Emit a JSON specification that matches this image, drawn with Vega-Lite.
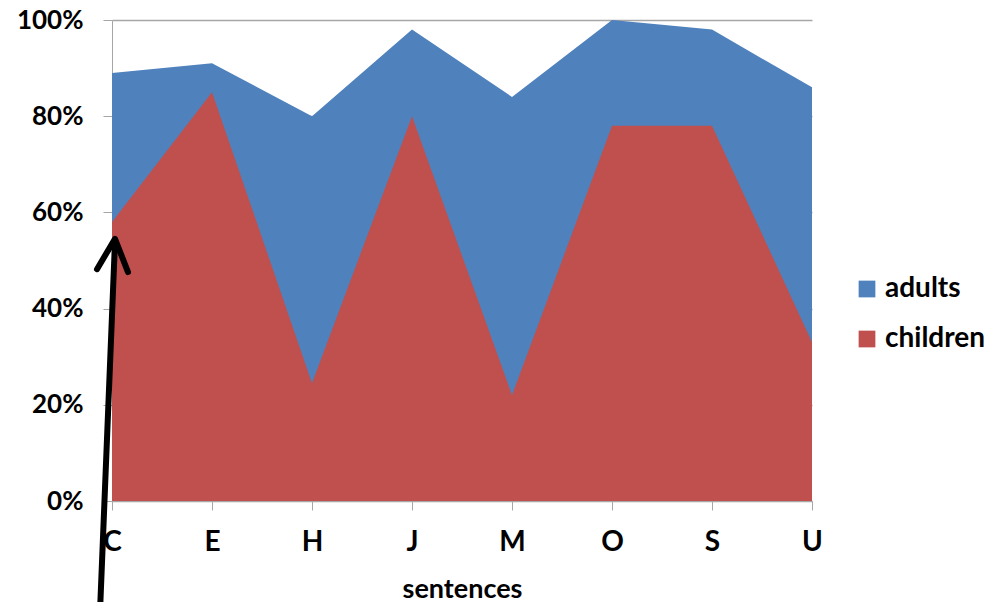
{
  "$schema": "https://vega.github.io/schema/vega-lite/v6.json",
  "width": 700,
  "height": 481,
  "autosize": {"type": "none"},
  "padding": {"left": 112, "top": 20, "right": 182, "bottom": 101},
  "background": "white",
  "config": {
    "font": "Lato",
    "view": {"stroke": null}
  },
  "datasets": {
    "series": [
      {"sentence": "C", "idx": 0, "group": "adults", "value": 0.89},
      {"sentence": "E", "idx": 1, "group": "adults", "value": 0.91},
      {"sentence": "H", "idx": 2, "group": "adults", "value": 0.80},
      {"sentence": "J", "idx": 3, "group": "adults", "value": 0.98},
      {"sentence": "M", "idx": 4, "group": "adults", "value": 0.84},
      {"sentence": "O", "idx": 5, "group": "adults", "value": 1.00},
      {"sentence": "S", "idx": 6, "group": "adults", "value": 0.98},
      {"sentence": "U", "idx": 7, "group": "adults", "value": 0.86},
      {"sentence": "C", "idx": 0, "group": "children", "value": 0.58},
      {"sentence": "E", "idx": 1, "group": "children", "value": 0.85},
      {"sentence": "H", "idx": 2, "group": "children", "value": 0.245},
      {"sentence": "J", "idx": 3, "group": "children", "value": 0.80},
      {"sentence": "M", "idx": 4, "group": "children", "value": 0.22},
      {"sentence": "O", "idx": 5, "group": "children", "value": 0.78},
      {"sentence": "S", "idx": 6, "group": "children", "value": 0.78},
      {"sentence": "U", "idx": 7, "group": "children", "value": 0.33}
    ],
    "arrow": [
      {"part": "shaft", "ord": 0, "ax": -0.12, "ay": -0.23},
      {"part": "shaft", "ord": 1, "ax": 0.03, "ay": 0.54},
      {"part": "head", "ord": 0, "ax": -0.15, "ay": 0.482},
      {"part": "head", "ord": 1, "ax": 0.03, "ay": 0.545},
      {"part": "head", "ord": 2, "ax": 0.16, "ay": 0.476}
    ]
  },
  "layer": [
    {
      "data": {"name": "series"},
      "mark": {"type": "area", "opacity": 1},
      "encoding": {
        "x": {
          "field": "idx",
          "type": "quantitative",
          "scale": {"domain": [0, 7], "nice": false, "zero": false},
          "axis": {
            "title": "sentences",
            "values": [0, 1, 2, 3, 4, 5, 6, 7],
            "labelExpr": "['C','E','H','J','M','O','S','U'][datum.value]",
            "grid": false,
            "domainColor": "#a6a6a6",
            "tickColor": "#a6a6a6",
            "tickSize": 9,
            "labelFontSize": 28,
            "labelFontWeight": "bold",
            "labelColor": "black",
            "labelPadding": 18,
            "labelFlush": false,
            "titleFontSize": 27,
            "titleFontWeight": "bold",
            "titleColor": "black",
            "titlePadding": 20
          }
        },
        "y": {
          "field": "value",
          "type": "quantitative",
          "stack": null,
          "scale": {"domain": [0, 1], "nice": false},
          "axis": {
            "title": null,
            "values": [0, 0.2, 0.4, 0.6, 0.8, 1],
            "format": ".0%",
            "grid": true,
            "gridColor": "#a6a6a6",
            "gridWidth": 1.5,
            "domainColor": "#a6a6a6",
            "tickColor": "#a6a6a6",
            "tickSize": 9,
            "labelFontSize": 26,
            "labelFontWeight": "bold",
            "labelColor": "black",
            "labelPadding": 20
          }
        },
        "color": {
          "field": "group",
          "type": "nominal",
          "scale": {"domain": ["adults", "children"], "range": ["#4F81BD", "#C0504D"]},
          "legend": {
            "title": null,
            "orient": "none",
            "legendX": 741,
            "legendY": 255,
            "symbolType": "square",
            "symbolSize": 280,
            "symbolStrokeWidth": 0,
            "symbolOpacity": 1,
            "labelFontSize": 28,
            "labelFontWeight": "bold",
            "labelColor": "black",
            "labelOffset": 4,
            "rowPadding": 22,
            "labelLimit": 300
          }
        }
      }
    },
    {
      "data": {"name": "arrow"},
      "mark": {"type": "line", "color": "black", "strokeWidth": 6, "strokeCap": "round", "strokeJoin": "round", "clip": false},
      "encoding": {
        "x": {"field": "ax", "type": "quantitative"},
        "y": {"field": "ay", "type": "quantitative"},
        "detail": {"field": "part"},
        "order": {"field": "ord"}
      }
    }
  ]
}
